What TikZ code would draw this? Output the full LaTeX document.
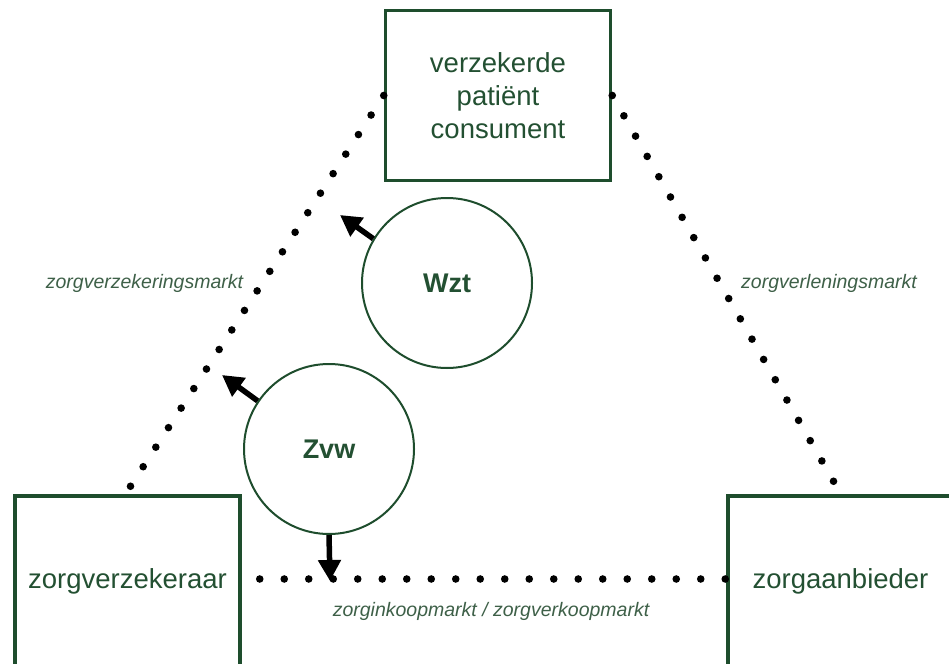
\documentclass[tikz,border=0pt]{standalone}
\usepackage{fontspec}
\setmainfont{Liberation Sans}
\usetikzlibrary{calc,arrows.meta}
\definecolor{boxgreen}{RGB}{30,77,45}
\definecolor{txtgreen}{RGB}{35,80,50}
\definecolor{lblgreen}{RGB}{62,96,72}
\tikzset{
  actor/.style={draw=boxgreen, line width=3.5pt, minimum width=225pt, minimum height=170pt,
    inner sep=0pt, text=txtgreen, align=center, font=\fontsize{27.5}{33}\selectfont},
  law/.style={draw=boxgreen, line width=2pt, circle, minimum size=170pt, inner sep=0pt,
    text=txtgreen, font=\fontsize{27}{32}\selectfont\bfseries},
  marketlabel/.style={text=lblgreen, font=\fontsize{19.5}{22}\selectfont\itshape, inner sep=0pt},
  lawarrow/.style={line width=5.5pt, -{Triangle[length=21pt,width=22pt]}},
}
\begin{document}
\begin{tikzpicture}[x=1pt,y=-1pt]
\useasboundingbox (0,0) rectangle (949,663);
\clip (0,0) rectangle (949,663);
% actors
\node[actor] (vpc) at (498,95.5) {verzekerde\\patiënt\\consument};
\node[actor] (zv) at (127.5,581) {zorgverzekeraar};
\node[actor] (za) at (840.5,581) {zorgaanbieder};
% dotted market lines
\coordinate (lb) at ($(zv.north)+(3,-8)$);
\coordinate (bl) at ($(zv.east)+(18,-2)$);
\coordinate (br) at ($(za.west)+(-1,-2)$);
\coordinate (rt) at ($(za.north)+(-7,-13)$);
\foreach \i in {0,...,20} \fill[black] ($(lb)!\i/20!(vpc.west)$) circle[radius=3.8pt];
\foreach \i in {0,...,19} \fill[black] ($(vpc.east)!\i/19!(rt)$) circle[radius=3.8pt];
\foreach \i in {0,...,19} \fill[black] ($(bl)!\i/19!(br)$) circle[radius=3.8pt];
% labels
\node[marketlabel] (lz) at (144.5,283) {zorgverzekeringsmarkt};
\node[marketlabel] (lv) at (829,283) {zorgverleningsmarkt};
\node[marketlabel] (li) at (491,611) {zorginkoopmarkt / zorgverkoopmarkt};
% laws
\node[law] (wzt) at (447,283) {Wzt};
\node[law] (zvw) at (329,449) {Zvw};
\coordinate (wztTip) at (340,215);
\coordinate (zvwTip) at (222,375);
\coordinate (downTip) at (330,581);
\draw[lawarrow] (wzt.149) -- (wztTip);
\draw[lawarrow] (zvw.146) -- (zvwTip);
\draw[lawarrow] (zvw.south) -- (downTip);
\end{tikzpicture}
\end{document}
